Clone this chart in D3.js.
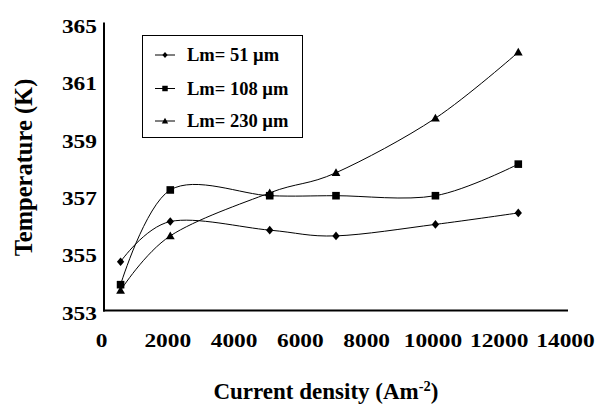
<!DOCTYPE html>
<html>
<head>
<meta charset="utf-8">
<script src="https://cdn.jsdelivr.net/npm/d3@7/dist/d3.min.js"></script>
<style>
  html, body { margin: 0; padding: 0; background: #fff; }
  svg { display: block; }
</style>
</head>
<body>
<script>
// ---- data ----
const xValues = [500, 2000, 5000, 7000, 10000, 12500];
const lm51  = [354.7, 356.1, 355.8, 355.6, 356.0, 356.4];
const lm108 = [353.9, 357.2, 357.0, 357.0, 357.0, 358.1];
const lm230 = [353.7, 355.6, 357.1, 357.8, 359.7, 362.0];
const seriesNames = ["Lm= 51 \u00b5m", "Lm= 108 \u00b5m", "Lm= 230 \u00b5m"];
const xTickValues = [0, 2000, 4000, 6000, 8000, 10000, 12000, 14000];
const yTickValues = [353, 355, 357, 359, 361, 363];
const yTickLabels = ["353", "355", "357", "359", "361", "365"];
const xTitle = "Current density (Am";
const xTitleSup = "-2";
const yTitle = "Temperature (K)";

const FONT = "Liberation Serif";
const W = 604, H = 406;
const svg = d3.select("body").append("svg").attr("width", W).attr("height", H)
  .attr("font-family", FONT).attr("font-weight", "bold");
svg.append("rect").attr("width", W).attr("height", H).attr("fill", "#fff");

const x = d3.scaleLinear().domain([0, 14000]).range([104, 568]);
const y = d3.scaleLinear().domain([353, 363]).range([310.5, 23.5]);
const stretch = 1.3;

// y axis
const gy = svg.append("g").attr("transform", `translate(${x(0)},0)`)
  .call(d3.axisLeft(y).tickValues(yTickValues).tickSize(0).tickSizeOuter(0)
    .tickFormat((d, i) => yTickLabels[i]));
gy.attr("font-family", FONT).attr("font-size", 18);
gy.select(".domain").attr("stroke", "#000").attr("stroke-width", 2)
  .attr("d", `M0,${y(353) + 1}V${y(363) - 1}`);
gy.selectAll(".tick text")
  .attr("font-family", FONT).attr("font-weight", "bold").attr("font-size", 18)
  .attr("fill", "#000")
  .attr("text-anchor", "end")
  .attr("transform", `scale(${stretch},1)`)
  .attr("x", -7 / stretch).attr("y", 2.5).attr("dy", "0.35em");

// x axis
const gx = svg.append("g").attr("transform", `translate(0,${y(353)})`)
  .call(d3.axisBottom(x).tickValues(xTickValues).tickSize(0).tickSizeOuter(0)
    .tickFormat(d3.format("d")));
gx.attr("font-family", FONT).attr("font-size", 18);
gx.select(".domain").attr("stroke", "#000").attr("stroke-width", 2)
  .attr("d", `M${x(0) - 1},0H${x(14000)}`);
gx.selectAll(".tick text")
  .attr("font-family", FONT).attr("font-weight", "bold").attr("font-size", 18)
  .attr("fill", "#000")
  .attr("transform", `scale(${stretch},1)`)
  .attr("x", -3 / stretch).attr("y", 36.5).attr("dy", 0);

// titles
svg.append("text")
  .attr("x", 326).attr("y", 399).attr("text-anchor", "middle")
  .attr("font-family", FONT).attr("font-weight", "bold")
  .attr("font-size", 23)
  .call(t => {
    t.append("tspan").text(xTitle);
    t.append("tspan").attr("font-size", 14.5).attr("dy", -8.5).text(xTitleSup);
    t.append("tspan").attr("dy", 8.5).text(")");
  });
svg.append("text")
  .attr("transform", "translate(32,167.5) rotate(-90)")
  .attr("font-family", FONT).attr("font-weight", "bold")
  .attr("text-anchor", "middle").attr("font-size", 24.5)
  .text(yTitle);

// markers
const markerPaths = {
  diamond: s => `M0,${-s}L${s * 0.85},0L0,${s}L${-s * 0.85},0Z`,
  square: s => `M${-s},${-s}H${s}V${s}H${-s}Z`,
  triangle: s => `M0,${-s}L${s},${s * 0.75}L${-s},${s * 0.75}Z`
};
const series = [
  { name: seriesNames[0], values: lm51, marker: "diamond", size: 4.3 },
  { name: seriesNames[1], values: lm108, marker: "square", size: 3.8 },
  { name: seriesNames[2], values: lm230, marker: "triangle", size: 4.4 }
];

const line = d3.line()
  .x((d, i) => x(xValues[i]))
  .y(d => y(d))
  .curve(d3.curveCardinal.tension(0));

const plot = svg.append("g");
series.forEach(s => {
  plot.append("path").attr("d", line(s.values))
    .attr("fill", "none").attr("stroke", "#000").attr("stroke-width", 1);
});
series.forEach(s => {
  plot.selectAll(null).data(s.values).enter().append("path")
    .attr("transform", (d, i) => `translate(${x(xValues[i])},${y(d)})`)
    .attr("d", markerPaths[s.marker](s.size))
    .attr("fill", "#000");
});

// legend
const lg = svg.append("g");
lg.append("rect").attr("x", 142.5).attr("y", 35.5).attr("width", 160).attr("height", 102)
  .attr("fill", "#fff").attr("stroke", "#000").attr("stroke-width", 1);
const rowsY = [55, 88.5, 121];
series.forEach((s, i) => {
  const ry = rowsY[i];
  lg.append("line").attr("x1", 155).attr("x2", 175).attr("y1", ry).attr("y2", ry)
    .attr("stroke", "#000").attr("stroke-width", 1);
  lg.append("path").attr("transform", `translate(165,${ry})`)
    .attr("d", markerPaths[s.marker](s.size * 0.72)).attr("fill", "#000");
  lg.append("text").attr("x", 187).attr("y", ry + 6)
    .attr("font-family", FONT).attr("font-weight", "bold")
    .attr("font-size", 18.5).text(s.name);
});
</script>
</body>
</html>
